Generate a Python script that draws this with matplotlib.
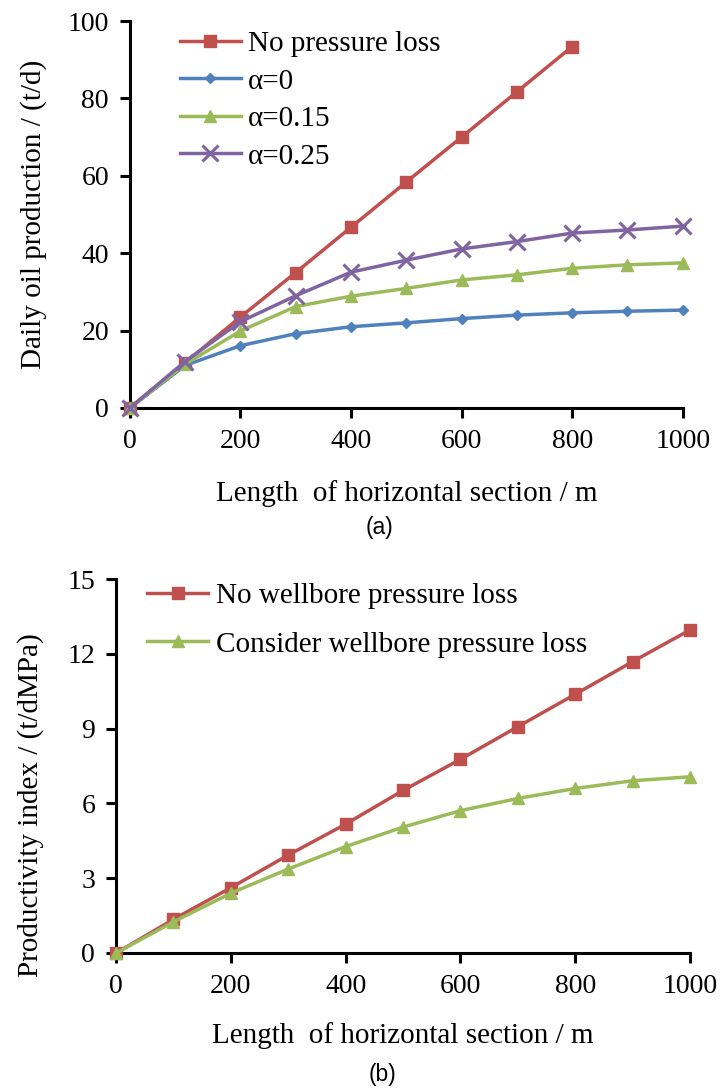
import matplotlib
matplotlib.use("Agg")
import matplotlib.pyplot as plt

plt.rcParams['font.family'] = ['Liberation Serif', 'DejaVu Serif']

# (a) daily oil production
length = [0, 100, 200, 300, 400, 500, 600, 700, 800, 900, 1000]
no_loss = [0, 11.7, 23.5, 35.0, 46.7, 58.4, 70.0, 81.7, 93.4]
alpha_0 = [0, 11.0, 16.1, 19.2, 21.0, 22.0, 23.1, 24.0, 24.6, 25.0, 25.3]
alpha_015 = [0, 11.3, 19.9, 26.2, 28.9, 30.9, 33.1, 34.4, 36.1, 37.0, 37.5]
alpha_025 = [0, 12.0, 22.3, 29.0, 35.1, 38.2, 41.1, 43.0, 45.2, 46.0, 47.0]

# (b) productivity index
pi_no_loss = [0, 1.35, 2.62, 3.93, 5.17, 6.52, 7.77, 9.08, 10.38, 11.69, 12.96]
pi_loss = [0, 1.25, 2.4, 3.37, 4.27, 5.05, 5.71, 6.2, 6.6, 6.91, 7.07]

xticks = [0, 200, 400, 600, 800, 1000]
yticks_a = [0, 20, 40, 60, 80, 100]
yticks_b = [0, 3, 6, 9, 12, 15]

red = '#C0504D'
blue = '#4F81BD'
green = '#9BBB59'
purple = '#8064A2'

fig = plt.figure(figsize=(7.21, 10.9), dpi=100)
ax1 = fig.add_axes([0.180, 0.6257, 0.767, 0.355])
ax2 = fig.add_axes([0.161, 0.1257, 0.796, 0.343])

serif = 'Liberation Serif'
lw = 2.5
ax1.plot(length[:len(no_loss)], no_loss, color=red, lw=lw, marker='s', ms=8, label='No pressure loss', clip_on=False, zorder=3)
ax1.plot(length, alpha_0, color=blue, lw=lw, marker='D', ms=5.5, label='α=0', clip_on=False, zorder=3)
ax1.plot(length, alpha_015, color=green, lw=lw, marker='^', ms=8, label='α=0.15', clip_on=False, zorder=3)
ax1.plot(length, alpha_025, color=purple, lw=lw, marker='x', ms=11, mew=2.2, label='α=0.25', clip_on=False, zorder=3)
ax1.set_xlim(0, 1000)
ax1.set_ylim(0, 100)
ax1.set_xticks(xticks, [str(t) for t in xticks], fontfamily=serif, fontsize=20)
ax1.set_yticks(yticks_a, [str(t) for t in yticks_a], fontfamily=serif, fontsize=20)
ax1.set_xlabel('Length  of horizontal section / m', fontsize=21, labelpad=19)
ax1.set_ylabel('Daily oil production / (t/d)', fontsize=21, labelpad=15)
ax1.legend(loc='upper left', bbox_to_anchor=(0.09, 0.975), frameon=False, fontsize=21,
           borderpad=0, handlelength=2.1, handletextpad=0.25, labelspacing=0.38, borderaxespad=0)

ax2.plot(length, pi_no_loss, color=red, lw=lw, marker='s', ms=8, label='No wellbore pressure loss', clip_on=False, zorder=3)
ax2.plot(length, pi_loss, color=green, lw=lw, marker='^', ms=8, label='Consider wellbore pressure loss', clip_on=False, zorder=3)
ax2.set_xlim(0, 1000)
ax2.set_ylim(0, 15)
ax2.set_xticks(xticks, [str(t) for t in xticks], fontfamily=serif, fontsize=20)
ax2.set_yticks(yticks_b, [str(t) for t in yticks_b], fontfamily=serif, fontsize=20)
ax2.set_xlabel('Length  of horizontal section / m', fontsize=21, labelpad=17)
ax2.set_ylabel('Productivity index / (t/dMPa)', fontsize=21)
ax2.yaxis.set_label_coords(-0.125, 0.396)
ax2.legend(loc='upper left', bbox_to_anchor=(0.054, 0.99), frameon=False, fontsize=21,
           borderpad=0, handlelength=2.1, handletextpad=0.25, labelspacing=0.75, borderaxespad=0)

for ax in (ax1, ax2):
    for s in ('top', 'right'):
        ax.spines[s].set_visible(False)
    for s in ('left', 'bottom'):
        ax.spines[s].set_linewidth(2.2)
    ax.tick_params(direction='out', length=7, width=2.2, pad=8)

fig.text(0.526, 1 - 527 / 1090, '(a)', family='Liberation Sans', fontsize=16.5, ha='center', va='center')
fig.text(0.530, 1 - 1075 / 1090, '(b)', family='Liberation Sans', fontsize=16.5, ha='center', va='center')

fig.savefig('out.png', dpi=100)
